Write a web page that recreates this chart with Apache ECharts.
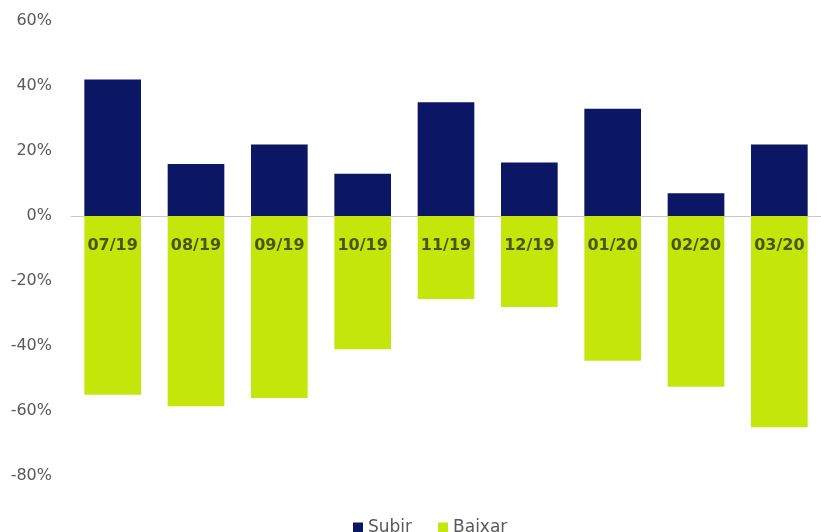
<!DOCTYPE html>
<html>
<head>
<meta charset="utf-8">
<script src="https://cdn.jsdelivr.net/npm/echarts@6/dist/echarts.min.js"></script>
<style>
html,body{margin:0;padding:0;background:#fff;}
#chart{width:821px;height:532px;}
</style>
</head>
<body>
<div id="chart"></div>
<script>
var categories = ['07/19','08/19','09/19','10/19','11/19','12/19','01/20','02/20','03/20'];
var subir = [42, 16, 22, 13, 35, 16.5, 33, 7, 22];
var baixar = [-55, -58.5, -56, -41, -25.5, -28, -44.5, -52.5, -65];
var yTicks = { min: -80, max: 60, interval: 20 };

var chart = echarts.init(document.getElementById('chart'));
chart.setOption({
  animation: false,
  backgroundColor: '#ffffff',
  textStyle: { fontFamily: 'DejaVu Sans' },
  legend: {
    data: ['Subir', 'Baixar'],
    top: 514,
    left: 348,
    itemWidth: 10,
    itemHeight: 10,
    itemGap: 26,
    icon: 'rect',
    textStyle: { color: '#595959', fontSize: 17, fontFamily: 'DejaVu Sans' }
  },
  grid: { left: 71, right: -9, top: 21, bottom: 56 },
  xAxis: {
    type: 'category',
    data: categories,
    axisLine: { onZero: true, lineStyle: { color: '#c8c8c8', width: 1 } },
    axisTick: { show: false },
    axisLabel: { show: false }
  },
  yAxis: {
    type: 'value',
    min: yTicks.min,
    max: yTicks.max,
    interval: yTicks.interval,
    axisLine: { show: false },
    axisTick: { show: false },
    splitLine: { show: false },
    axisLabel: { color: '#595959', fontSize: 16, margin: 19, formatter: '{value}%', fontFamily: 'DejaVu Sans' }
  },
  series: [
    {
      name: 'Subir', type: 'bar', stack: 'total', data: subir,
      barCategoryGap: '32%',
      itemStyle: { color: '#0b1664' }
    },
    {
      name: 'Baixar', type: 'bar', stack: 'total', data: baixar,
      barCategoryGap: '32%',
      itemStyle: { color: '#c5e60a' },
      label: {
        show: true,
        position: 'insideTop',
        distance: 22,
        formatter: '{b}',
        color: '#4a5511',
        fontSize: 16,
        fontWeight: 'bold',
        fontFamily: 'DejaVu Sans'
      }
    }
  ]
});
</script>
</body>
</html>
